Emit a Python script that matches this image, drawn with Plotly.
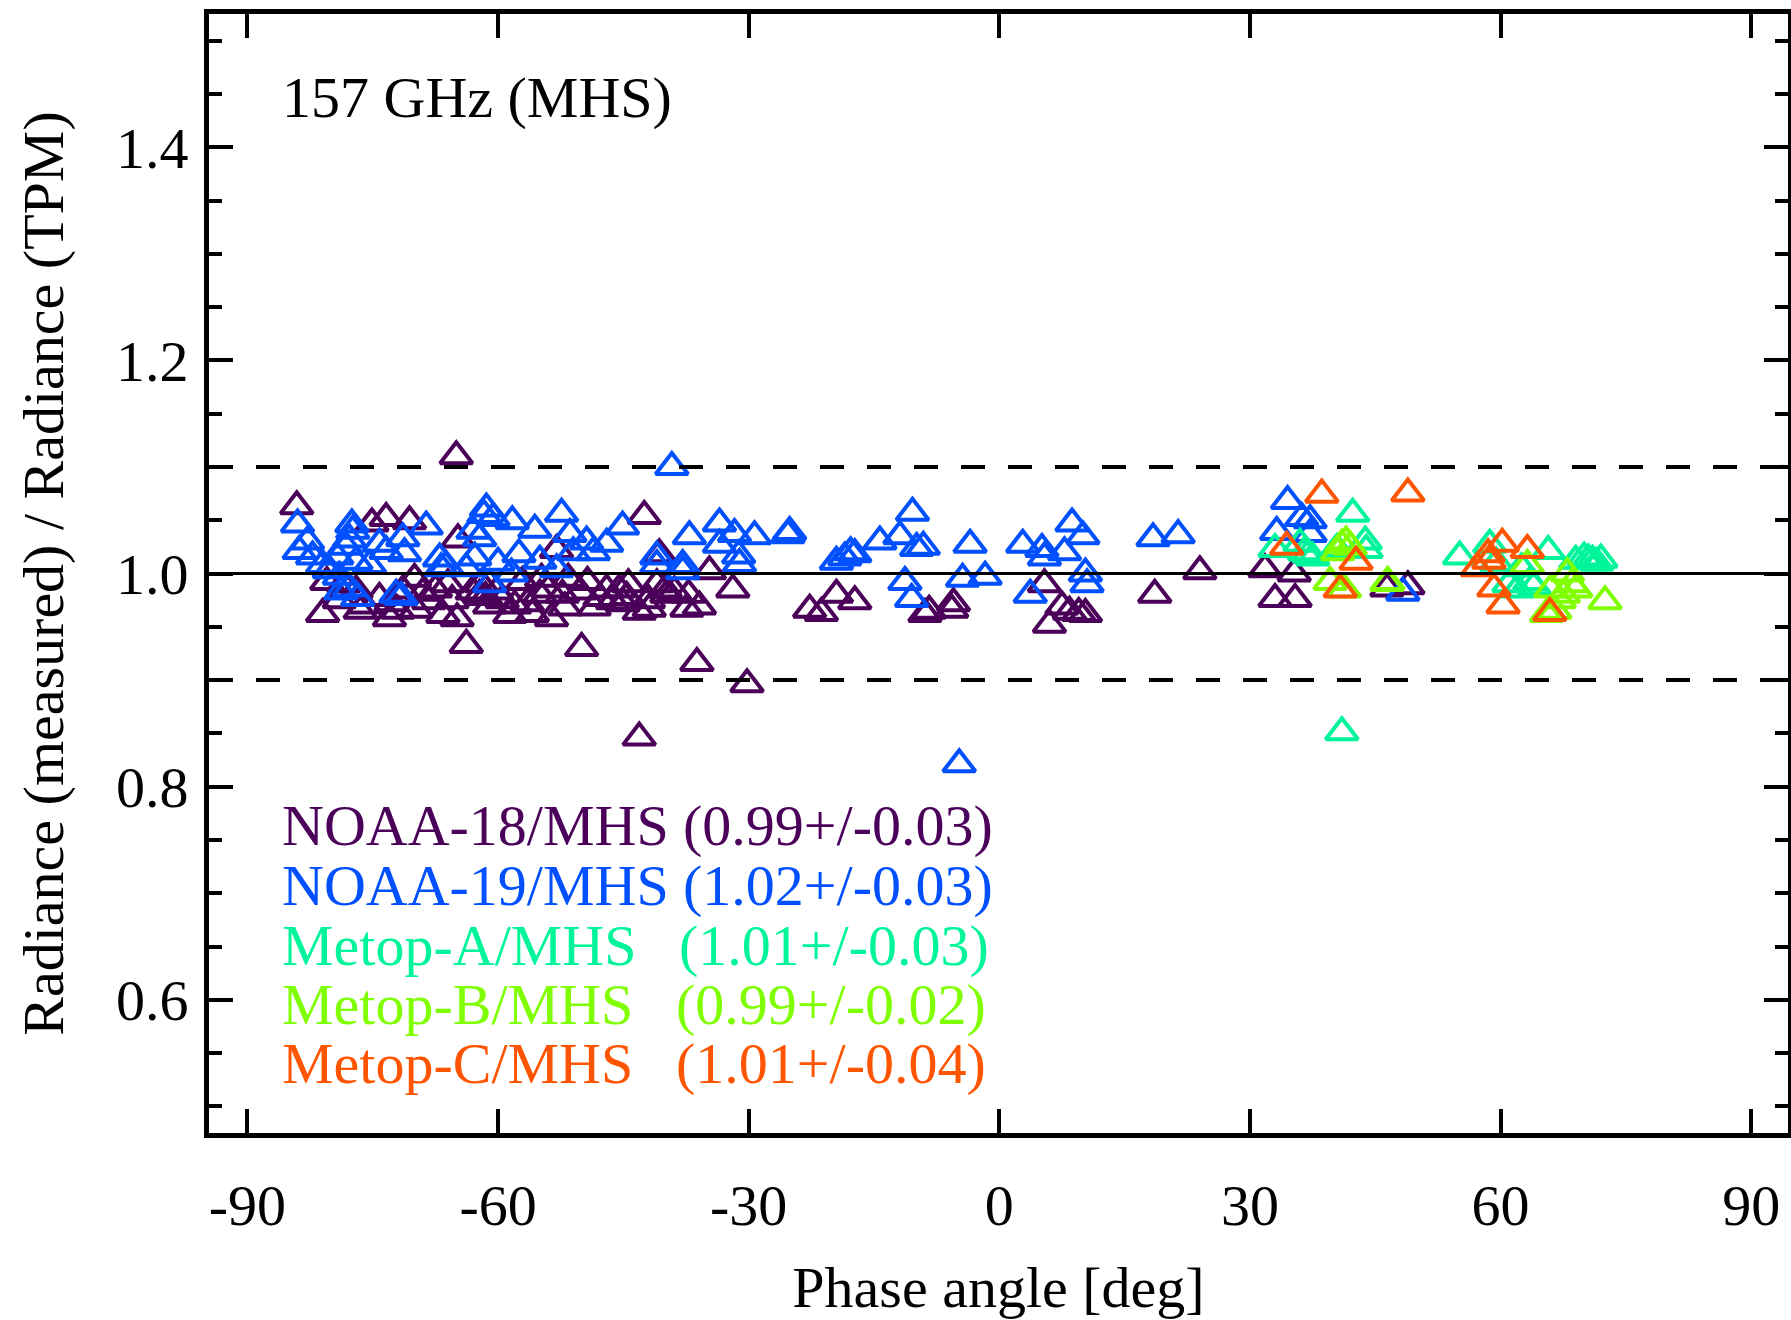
import plotly.graph_objects as go

# ---------------- data ----------------
noaa18_x = [-84.1, -81.0, -80.5, -79.0, -78.5, -77.0, -76.0, -75.1, -74.2, -73.4, -73.0, -72.0,
            -71.4, -70.6, -70.0, -69.8, -68.3, -67.5, -66.6, -66.0, -65.0, -64.9, -64.8, -63.8,
            -63.1, -62.2, -62.0, -61.0, -60.2, -59.5, -58.6, -57.1, -56.5, -55.9, -54.8, -54.0,
            -53.6, -53.0, -52.3, -51.6, -50.2, -50.0, -49.3, -48.5, -47.8, -46.3, -45.5, -44.6,
            -44.4, -43.1, -43.1, -42.5, -41.9, -41.0, -40.7, -39.8, -38.9, -37.4, -37.2, -36.2,
            -35.9, -34.7, -31.9, -30.2, -22.7, -21.3, -19.5, -17.3, -8.9, -8.4, -5.7, -5.5,
            5.4, 6.0, 7.5, 8.4, 9.5, 10.3, 18.6, 24.0, 31.8, 33.0, 35.3, 35.4, 46.4, 48.9,
            -76.5, -72.8, -69.0, -65.5, -61.5, -58.0, -55.0, -52.0, -47.0, -45.0, -42.0, -40.0]
noaa18_y = [1.063, 0.962, 0.992, 0.975, 0.990, 0.984, 0.970, 1.047, 0.977, 1.052, 0.958, 0.965,
            0.984, 1.049, 0.995, 0.966, 0.974, 0.985, 0.961, 0.990, 1.110, 0.958, 1.032, 0.933,
            0.983, 0.980, 0.990, 0.970, 0.983, 0.975, 0.961, 0.992, 0.972, 0.962, 0.995, 0.985,
            0.958, 1.022, 0.980, 0.995, 0.983, 0.930, 0.992, 0.968, 0.977, 0.974, 0.985, 0.978,
            0.990, 0.964, 0.846, 1.054, 0.967, 0.990, 1.018, 0.980, 0.983, 0.967, 0.980, 0.916,
            0.969, 1.002, 0.985, 0.896, 0.966, 0.963, 0.980, 0.974, 0.962, 0.965, 0.966, 0.972,
            0.990, 0.952, 0.969, 0.964, 0.963, 0.962, 0.980, 1.002, 1.004, 0.976, 1.000, 0.976,
            0.986, 0.988,
            0.965, 0.972, 0.982, 0.975, 0.978, 0.970, 0.980, 0.968, 0.985, 0.972, 0.975, 0.985]

noaa19_x = [-84.0, -83.8, -82.8, -82.2, -81.0, -80.2, -79.3, -79.0, -78.8, -78.2, -77.8, -77.8,
            -77.5, -77.4, -77.0, -76.8, -75.4, -74.2, -73.4, -72.2, -71.6, -71.4, -71.2, -68.6,
            -67.0, -66.8, -66.2, -63.8, -63.0, -62.8, -62.2, -61.7, -61.4, -61.0, -60.6, -60.0,
            -58.4, -58.3, -57.5, -55.6, -55.0, -53.0, -52.4, -51.4, -51.0, -49.4, -48.6, -47.0,
            -45.1, -41.0, -41.0, -39.2, -37.9, -37.9, -37.1, -33.5, -33.5, -31.7, -31.2, -31.1,
            -29.3, -25.3, -25.1, -19.5, -18.5, -17.8, -17.3, -14.3, -11.9, -11.3, -10.5, -10.4,
            -9.9, -9.1, -4.8, -4.4, -3.5, -1.7, 2.8, 3.7, 5.1, 5.4, 7.8, 8.7, 10.0, 10.3, 10.5,
            18.4, 21.4, 33.2, 34.5, 36.2, 37.2, 37.2, 48.3]
noaa19_y = [1.046, 1.021, 1.030, 1.016, 1.008, 1.003, 1.016, 0.997, 0.983, 1.025, 1.032, 0.986,
            1.046, 1.040, 1.011, 0.977, 1.008, 1.028, 1.021, 0.980, 0.978, 1.033, 1.019, 1.044,
            1.014, 1.005, 1.007, 1.005, 1.040, 1.015, 1.033, 1.055, 1.061, 0.990, 1.052, 1.010,
            1.000, 1.049, 1.018, 1.041, 1.012, 1.004, 1.056, 1.037, 1.020, 1.030, 1.020, 1.028,
            1.044, 1.016, 1.008, 1.100, 1.008, 1.002, 1.035, 1.047, 1.027, 1.037, 1.017, 1.009,
            1.035, 1.036, 1.039, 1.011, 1.015, 1.020, 1.018, 1.030, 1.035, 0.992, 0.976, 1.057,
            1.024, 1.025, 0.821, 0.995, 1.027, 0.997, 1.027, 0.980, 1.023, 1.015, 1.020, 1.047,
            1.035, 1.000, 0.990, 1.033, 1.036, 1.039, 1.068, 1.052, 1.037, 1.050, 0.982]

metopa_x = [33.0, 36.0, 36.5, 37.0, 37.5, 40.4, 41.0, 42.3, 43.8, 43.9, 55.1, 58.7, 59.5,
            61.0, 62.0, 62.5, 63.5, 64.0, 65.7, 69.0, 70.0, 70.5, 71.0, 71.5, 72.0]
metopa_y = [1.023, 1.028, 1.020, 1.018, 1.015, 1.023, 0.851, 1.056, 1.030, 1.022, 1.016, 1.027, 1.010,
            0.990, 0.985, 1.005, 0.992, 0.988, 1.021, 1.012, 1.015, 1.013, 1.012, 1.010, 1.013]

metopb_x = [39.6, 40.5, 41.0, 41.5, 41.3, 42.0, 46.4, 46.5, 63.2, 65.5, 66.0, 66.5, 67.0,
            67.5, 68.0, 68.5, 69.0, 72.5]
metopb_y = [0.992, 1.020, 1.027, 1.030, 0.985, 1.025, 0.991, 0.992, 1.008, 0.962, 0.985, 0.965, 0.975,
            0.980, 1.000, 0.990, 0.985, 0.974]

metopc_x = [34.4, 38.6, 40.8, 42.7, 48.9, 57.2, 58.6, 58.5, 59.2, 60.2, 60.3, 63.2, 65.9]
metopc_y = [1.025, 1.074, 0.985, 1.011, 1.075, 1.005, 1.012, 1.018, 0.986, 1.028, 0.970, 1.022, 0.963]

series_names = ["NOAA-18/MHS", "NOAA-19/MHS", "Metop-A/MHS", "Metop-B/MHS", "Metop-C/MHS"]
series_stats = ["(0.99+/-0.03)", "(1.02+/-0.03)", "(1.01+/-0.03)", "(0.99+/-0.02)", "(1.01+/-0.04)"]
series_colors = ["#4B005A", "#0050FF", "#00F59A", "#80FF00", "#FF5500"]

x_tickvals = [-90, -60, -30, 0, 30, 60, 90]
x_ticktext = ["-90", "-60", "-30", "0", "30", "60", "90"]

title_text = "157 GHz (MHS)"
x_title = "Phase angle [deg]"
y_title = "Radiance (measured) / Radiance (TPM)"

FONT = "Liberation Serif"
FS = 58

# ---------------- figure ----------------
fig = go.Figure()

all_x = [noaa18_x, noaa19_x, metopa_x, metopb_x, metopc_x]
all_y = [noaa18_y, noaa19_y, metopa_y, metopb_y, metopc_y]

# reference lines
fig.add_hline(y=1.0, line=dict(color="black", width=3))
fig.add_hline(y=1.1, line=dict(color="black", width=4, dash="24px,23px"))
fig.add_hline(y=0.9, line=dict(color="black", width=4, dash="24px,23px"))

for xs, ys, name, col in zip(all_x, all_y, series_names, series_colors):
    fig.add_trace(go.Scatter(
        x=xs, y=ys, mode="markers", name=name,
        marker=dict(symbol="triangle-up-open", size=28, color=col,
                    line=dict(color=col, width=4)),
        showlegend=False,
    ))

# title-like label inside plot
fig.add_annotation(text=title_text, xref="paper", yref="paper",
                   x=(280 - 209) / 1579, y=1 - (97 - 14) / 1119,
                   xanchor="left", yanchor="middle", showarrow=False,
                   font=dict(family=FONT, size=FS, color="black"))

# legend as coloured text
row_y = [825, 885, 945, 1004, 1063]
stat_x = [681, 681, 677, 674, 674]
for i in range(5):
    yp = 1 - (row_y[i] - 14) / 1119
    fig.add_annotation(text=series_names[i], xref="paper", yref="paper",
                       x=(280 - 209) / 1579, y=yp, xanchor="left", yanchor="middle",
                       showarrow=False, font=dict(family=FONT, size=FS, color=series_colors[i]))
    fig.add_annotation(text=series_stats[i], xref="paper", yref="paper",
                       x=(stat_x[i] - 209) / 1579, y=yp, xanchor="left", yanchor="middle",
                       showarrow=False, font=dict(family=FONT, size=FS, color=series_colors[i]))

axis_common = dict(
    showline=True, linecolor="black", linewidth=5, mirror="allticks",
    ticks="inside", tickcolor="black", tickwidth=4, ticklen=24,
    showgrid=False, zeroline=False,
    tickfont=dict(family=FONT, size=FS, color="black"),
)

fig.update_xaxes(
    range=[-94.6, 94.4], tickmode="array", tickvals=x_tickvals, ticktext=x_ticktext,
    title=dict(text=x_title, font=dict(family=FONT, size=FS, color="black"), standoff=33),
    ticklabelstandoff=17,
    **axis_common,
)
fig.update_yaxes(
    range=[0.475, 1.525], tick0=0, dtick=0.2, tickformat=".1f",
    minor=dict(dtick=0.05, ticklen=13, tickwidth=4, tickcolor="black", ticks="inside"),
    title=dict(text=y_title, font=dict(family=FONT, size=FS, color="black"), standoff=35),
    ticklabelstandoff=4,
    **axis_common,
)

fig.update_layout(
    width=1791, height=1320,
    margin=dict(l=209, r=3, t=14, b=187, autoexpand=False),
    paper_bgcolor="white", plot_bgcolor="white",
    font=dict(family=FONT, size=FS, color="black"),
)

fig.write_html("out.html")
